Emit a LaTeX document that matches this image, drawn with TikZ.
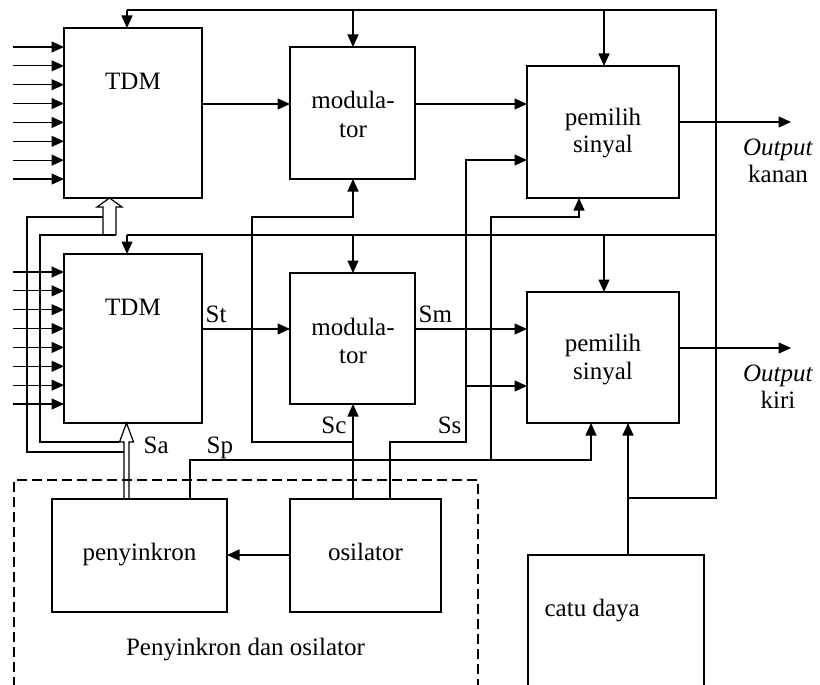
\documentclass[tikz,border=0pt]{standalone}
\usepackage{fontspec}
\setmainfont{Liberation Serif}
\usetikzlibrary{arrows.meta}
\begin{document}
\begin{tikzpicture}[x=1pt,y=-1pt,
  line width=1.2pt,
  blk/.style={draw, line width=1.2pt, inner sep=0pt, outer sep=0pt},
  lbl/.style={inner sep=0pt, font=\fontsize{25}{30}\selectfont},
  arr/.style={-{Triangle[length=12.5pt,width=11pt]}},
  grpbox/.style={draw, line width=1.2pt, dash pattern=on 10pt off 5pt, inner sep=0pt, outer sep=0pt}
  ]
\useasboundingbox (0,0) rectangle (820,685);
\clip (0,0) rectangle (820,685);

% blocks
\node[blk, minimum width=138pt, minimum height=170pt] (tdm1) at (133,113) {};
\node[blk, minimum width=138pt, minimum height=169pt] (tdm2) at (133,338.5) {};
\node[blk, minimum width=125pt, minimum height=132pt] (mod1) at (352.5,113) {};
\node[blk, minimum width=125pt, minimum height=131pt] (mod2) at (352.5,338.5) {};
\node[blk, minimum width=152pt, minimum height=132pt] (pem1) at (603,132) {};
\node[blk, minimum width=152pt, minimum height=131pt] (pem2) at (603,357.5) {};
\node[blk, minimum width=175pt, minimum height=113pt] (peny) at (139.5,555.5) {};
\node[blk, minimum width=151pt, minimum height=113pt] (osc) at (365.5,555.5) {};
\node[blk, minimum width=176pt, minimum height=165pt] (catu) at (616,637.5) {};
\node[grpbox, minimum width=464pt, minimum height=240pt] (grp) at (246,600) {};

% block texts
\node[lbl, anchor=base] (tdm1t) at (133,89) {TDM};
\node[lbl, anchor=base] (tdm2t) at (133,315) {TDM};
\node[lbl, anchor=base] (mod1a) at (353,109) {modula-};
\node[lbl, anchor=base] (mod1b) at (353,137) {tor};
\node[lbl, anchor=base] (mod2a) at (353,335) {modula-};
\node[lbl, anchor=base] (mod2b) at (353,363) {tor};
\node[lbl, anchor=base] (pem1a) at (603,125) {pemilih};
\node[lbl, anchor=base] (pem1b) at (603,153) {sinyal};
\node[lbl, anchor=base] (pem2a) at (603,351) {pemilih};
\node[lbl, anchor=base] (pem2b) at (603,379) {sinyal};
\node[lbl, anchor=base] (penyt) at (139.5,560) {penyinkron};
\node[lbl, anchor=base] (osct) at (365.5,560) {osilator};
\node[lbl, anchor=base] (grpt) at (245.5,655) {Penyinkron dan osilator};
\node[lbl, anchor=base west] (catut) at (544,616) {catu daya};
\node[lbl, anchor=base] (out1a) at (778,155) {\textit{Output}};
\node[lbl, anchor=base] (out1b) at (778,182) {kanan};
\node[lbl, anchor=base] (out2a) at (778,381) {\textit{Output}};
\node[lbl, anchor=base] (out2b) at (778,408) {kiri};

% signal names
\node[lbl, anchor=base west] (lst) at (205,322) {St};
\node[lbl, anchor=base west] (lsm) at (418,322) {Sm};
\node[lbl, anchor=base west] (lsa) at (143,453) {Sa};
\node[lbl, anchor=base west] (lsp) at (206,453) {Sp};
\node[lbl, anchor=base east] (lsc) at (347,433) {Sc};
\node[lbl, anchor=base east] (lss) at (462,433) {Ss};

% supply feed buses
\coordinate (pwj) at (628,498);
\coordinate (tr) at (716,10);
\coordinate (mr) at (716,235);
\coordinate (t1) at (127,10);
\coordinate (t2) at (353,10);
\coordinate (t3) at (604,10);
\coordinate (m1) at (127,235);
\coordinate (m2) at (353,235);
\coordinate (m3) at (604,235);
\draw[arr] (pwj |- catu.north) -- (pwj |- pem2.south);
\draw (pwj) -| (tr) -- (t1);
\draw (mr) -- (m1);
\foreach \c/\n in {t1/tdm1,t2/mod1,t3/pem1,m1/tdm2,m2/mod2,m3/pem2}
  \draw[arr] (\c) -- (\c |- \n.north);

% multiplexer inputs
\foreach \i in {0,...,7} {
  \coordinate (ia\i) at (13,{47+\i*18.86});
  \draw[arr] (ia\i) -- (ia\i -| tdm1.west);
  \coordinate (ib\i) at (13,{272+\i*18.86});
  \draw[arr] (ib\i) -- (ib\i -| tdm2.west);
}

% main signal chain
\coordinate (a1) at (0,104);
\coordinate (a2) at (0,329);
\draw[arr] (a1 -| tdm1.east) -- (a1 -| mod1.west);
\draw[arr] (a1 -| mod1.east) -- (a1 -| pem1.west);
\draw[arr] (a2 -| tdm2.east) -- (a2 -| mod2.west);
\draw[arr] (a2 -| mod2.east) -- (a2 -| pem2.west);
\coordinate (o1) at (791,122);
\coordinate (o2) at (791,348);
\draw[arr] (o1 -| pem1.east) -- (o1);
\draw[arr] (o2 -| pem2.east) -- (o2);

% Sc: carrier to both modulators
\coordinate (sc) at (353,442);
\coordinate (scb) at (252,217);
\draw[arr] (sc |- osc.north) -- (sc |- mod2.south);
\draw[arr] (sc) -| (scb) -| (sc |- mod1.south);

% Ss: switching signal to both selectors
\coordinate (ssx) at (390,0);
\coordinate (ss) at (466,442);
\coordinate (s1) at (466,160);
\coordinate (s2) at (466,386);
\draw[arr] (ssx |- osc.north) |- (ss) -- (s1) -- (s1 -| pem1.west);
\draw[arr] (s2) -- (s2 -| pem2.west);

% Sp: sync pulse to both selectors
\coordinate (sp) at (190,460);
\coordinate (spr) at (591,460);
\coordinate (spb) at (491,460);
\coordinate (spt) at (491,217);
\coordinate (spu) at (579,217);
\draw[arr] (sp |- peny.north) -- (sp) -- (spr) -- (spr |- pem2.south);
\draw[arr] (spb) -- (spt) -- (spu) -- (spu |- pem1.south);

% oscillator drives the synchroniser
\coordinate (op) at (0,555);
\draw[arr] (op -| osc.west) -- (op -| peny.east);

% Sa: hollow bus to both multiplexers
\draw (124,452) -- (27,452) -- (27,217) -- (103,217);
\draw (119,442) -- (40,442) -- (40,235) -- (116,235);
\draw[line join=miter] (103,235) -- (103,207) -- (97,207) -- (109.5,198) -- (122,207) -- (116,207) -- (116,235);
\draw[line join=miter] (124,499) -- (124,442) -- (119.5,442) -- (126.5,423) -- (133.5,442) -- (129,442) -- (129,499);
\end{tikzpicture}
\end{document}
